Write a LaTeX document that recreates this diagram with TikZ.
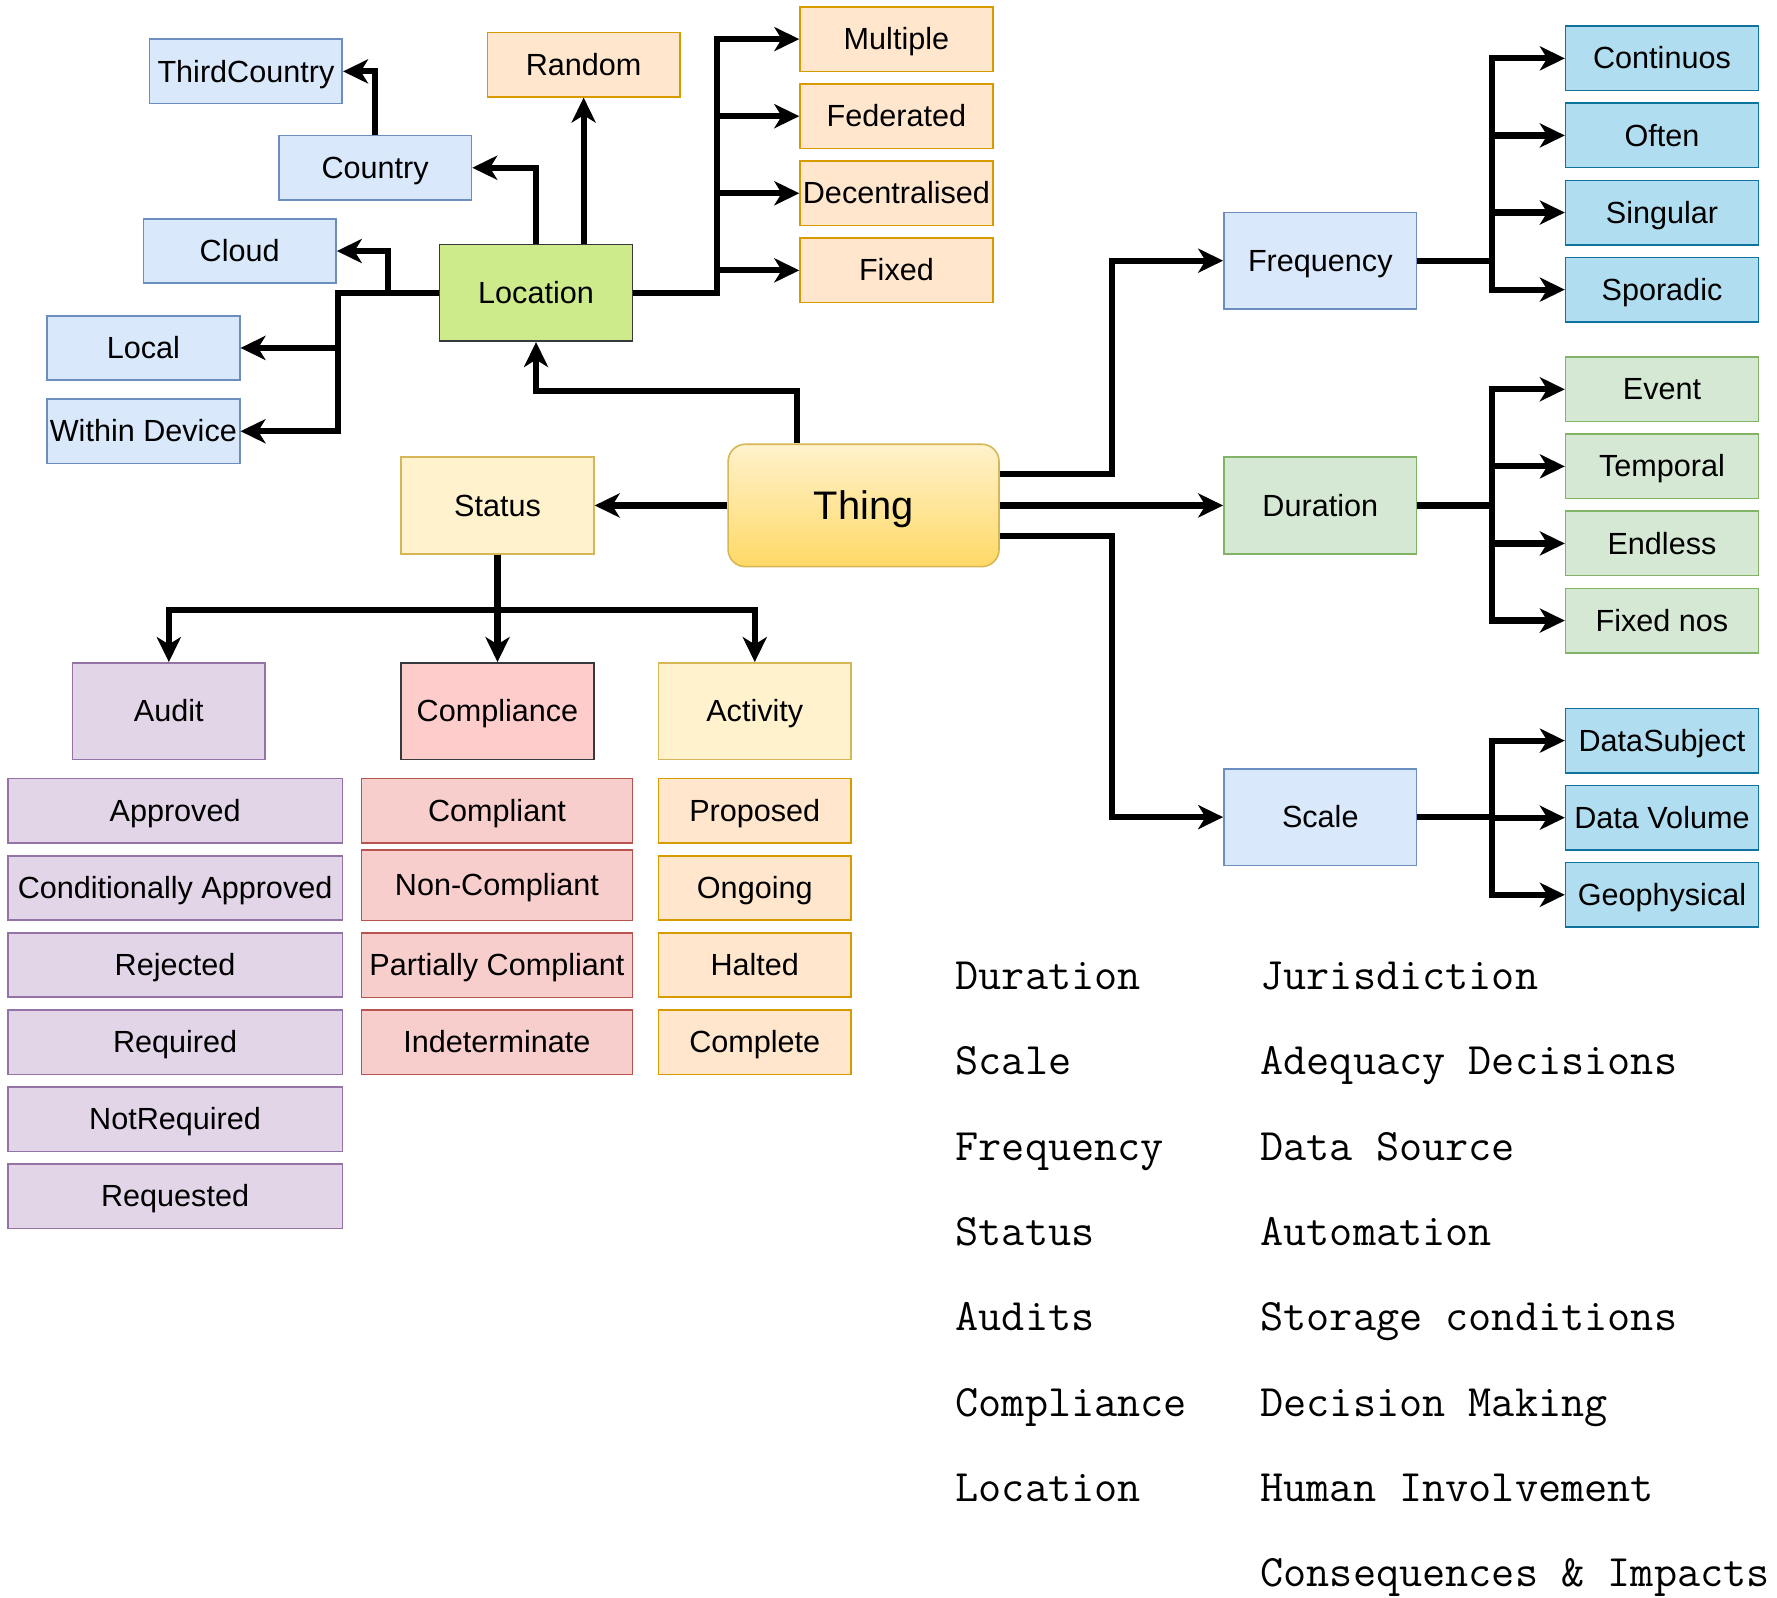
\documentclass[tikz,border=0pt]{standalone}
\usepackage{fontspec}
\setmainfont{Liberation Sans}
\usepackage{tikz}
\usetikzlibrary{arrows.meta,positioning}

\definecolor{blueFill}{HTML}{DAE8FC}
\definecolor{blueLine}{HTML}{6C8EBF}
\definecolor{orangeFill}{HTML}{FFE6CC}
\definecolor{orangeLine}{HTML}{D79B00}
\definecolor{limeFill}{HTML}{CDEB8B}
\definecolor{darkLine}{HTML}{36393D}
\definecolor{yellowFill}{HTML}{FFF2CC}
\definecolor{yellowLine}{HTML}{D6B656}
\definecolor{thingTop}{HTML}{FFF2CC}
\definecolor{thingBottom}{HTML}{FFD966}
\definecolor{purpleFill}{HTML}{E1D5E7}
\definecolor{purpleLine}{HTML}{9673A6}
\definecolor{pinkFill}{HTML}{FFCCCC}
\definecolor{redFill}{HTML}{F8CECC}
\definecolor{redLine}{HTML}{B85450}
\definecolor{cyanFill}{HTML}{B1DDF0}
\definecolor{cyanLine}{HTML}{10739E}
\definecolor{greenFill}{HTML}{D5E8D4}
\definecolor{greenLine}{HTML}{82B366}

\tikzset{
  catbox/.style={
    draw,
    rectangle,
    line width=0.35mm,
    minimum width=4.25cm,
    minimum height=1.42cm,
    inner sep=1pt,
    text height=17.4pt,
    text depth=4.1pt,
    align=center,
    font=\fontsize{19.2}{23}\selectfont
  },
  bigbox/.style={catbox, minimum height=2.13cm},
  bluebox/.style={catbox, fill=blueFill, draw=blueLine},
  orangebox/.style={catbox, fill=orangeFill, draw=orangeLine},
  purplebox/.style={catbox, fill=purpleFill, draw=purpleLine, minimum width=7.375cm},
  redbox/.style={catbox, fill=redFill, draw=redLine, minimum width=5.975cm},
  cyanbox/.style={catbox, fill=cyanFill, draw=cyanLine},
  greenbox/.style={catbox, fill=greenFill, draw=greenLine},
  thingbox/.style={
    draw=yellowLine,
    line width=0.35mm,
    rounded corners=0.38cm,
    top color=thingTop,
    bottom color=thingBottom,
    minimum width=5.975cm,
    minimum height=2.7cm,
    text height=22.6pt,
    text depth=5.3pt,
    font=\fontsize{25}{30}\selectfont
  },
  aspect/.style={
    anchor=base west,
    inner sep=0pt,
    font=\ttfamily\fontsize{28.2}{33}\selectfont
  },
  link/.style={
    draw=black,
    line width=1.35mm,
    ->,
    >={Stealth[length=5.5mm,width=5.3mm,inset=1.6mm]}
  }
}

\begin{document}
\begin{tikzpicture}[x=0.025cm, y=-0.025cm, node distance=0.245cm and 0.6cm]
    \useasboundingbox (0,0) rectangle (1568,1410);

    \node [thingbox] (thing) at (762,446) {Thing};

    \node [bigbox, fill=limeFill, draw=darkLine] (loc) at (473,258.5) {Location};

    \node [bluebox] (country) at (331,148) {Country};

    \node [bluebox] (third) at (217,63) {ThirdCountry};

    \node [orangebox] (random) at (515,57) {Random};

    \node [bluebox] (cloud) at (211.5,221.5) {Cloud};

    \node [bluebox] (local) at (126.5,307) {Local};

    \node [bluebox] (device) at (126.5,380.5) {Within Device};

    \node [orangebox] (multiple) at (791,34.5) {Multiple};
    \node [orangebox, below= of multiple] (federated) {Federated};
    \node [orangebox, below= of federated] (decentral) {Decentralised};
    \node [orangebox, below= of decentral] (fixed) {Fixed};

    \node [bigbox, fill=yellowFill, draw=yellowLine] (status) at (439,446) {Status};

    \node [bigbox, fill=purpleFill, draw=purpleLine] (audit) at (149,627.5) {Audit};

    \node [bigbox, fill=pinkFill, draw=darkLine] (compliance) at (439,627.5) {Compliance};

    \node [bigbox, fill=yellowFill, draw=yellowLine] (activity) at (666,627.5) {Activity};

    \node [purplebox] (approved) at (154.5,715.5) {Approved};
    \node [purplebox, below= of approved] (condapproved) {Conditionally Approved};
    \node [purplebox, below= of condapproved] (rejected) {Rejected};
    \node [purplebox, below= of rejected] (required) {Required};
    \node [purplebox, below= of required] (notrequired) {NotRequired};
    \node [purplebox, below= of notrequired] (requested) {Requested};

    \node [redbox] (compliant) at (438.5,715.5) {Compliant};
    \node [redbox, minimum height=1.55cm, below=0.12cm of compliant] (noncompliant) {Non-Compliant};
    \node [redbox, below= of noncompliant] (partial) {Partially Compliant};
    \node [redbox, below= of partial] (indeterminate) {Indeterminate};

    \node [orangebox] (proposed) at (666,715.5) {Proposed};
    \node [orangebox, below= of proposed] (ongoing) {Ongoing};
    \node [orangebox, below= of ongoing] (halted) {Halted};
    \node [orangebox, below= of halted] (complete) {Complete};

    \node [bigbox, fill=blueFill, draw=blueLine] (freq) at (1165,230) {Frequency};

    \node [bigbox, fill=greenFill, draw=greenLine] (dur) at (1165,446) {Duration};

    \node [bigbox, fill=blueFill, draw=blueLine] (scale) at (1165,721) {Scale};

    \node [cyanbox] (cont) at (1466.5,51.5) {Continuos};
    \node [cyanbox, below= of cont] (often) {Often};
    \node [cyanbox, below= of often] (singular) {Singular};
    \node [cyanbox, below= of singular] (sporadic) {Sporadic};

    \node [greenbox] (event) at (1466.5,343.5) {Event};
    \node [greenbox, below= of event] (temporal) {Temporal};
    \node [greenbox, below= of temporal] (endless) {Endless};
    \node [greenbox, below= of endless] (fixednos) {Fixed nos};

    \node [cyanbox] (subject) at (1466.5,653.5) {DataSubject};
    \node [cyanbox, below= of subject] (volume) {Data Volume};
    \node [cyanbox, below= of volume] (geo) {Geophysical};

    \node [aspect] (a1) at (843,873) {Duration};
    \node [aspect] (a2) at (843,948.3) {Scale};
    \node [aspect] (a3) at (843,1023.6) {Frequency};
    \node [aspect] (a4) at (843,1098.9) {Status};
    \node [aspect] (a5) at (843,1174.2) {Audits};
    \node [aspect] (a6) at (843,1249.5) {Compliance};
    \node [aspect] (a7) at (843,1324.8) {Location};

    \node [aspect] (b1) at (1112,873) {Jurisdiction};
    \node [aspect] (b2) at (1112,948.3) {Adequacy Decisions};
    \node [aspect] (b3) at (1112,1023.6) {Data Source};
    \node [aspect] (b4) at (1112,1098.9) {Automation};
    \node [aspect] (b5) at (1112,1174.2) {Storage conditions};
    \node [aspect] (b6) at (1112,1249.5) {Decision Making};
    \node [aspect] (b7) at (1112,1324.8) {Human Involvement};
    \node [aspect] (b8) at (1112,1400.1) {Consequences \& Impacts};

    \draw [link] ([xshift=-1.475cm]thing.north) -- ++(0,-46) -| (loc.south);
    \draw [link] (thing) -- (status);
    \draw [link] (thing) -- (dur);
    \draw [link] ([yshift=0.7cm]thing.east) -- ++(99,0) |- (freq);
    \draw [link] ([yshift=-0.675cm]thing.east) -- ++(99,0) |- (scale);

    \draw [link] (loc.north) |- (country);
    \draw [link] (country.north) |- (third);
    \draw [link] (loc.north -| random.south) -- (random);
    \draw [link] (loc.west) -- ++(-45,0) |- (cloud);
    \draw [link] (loc.west) -- ++(-89,0) |- (local);
    \draw [link] (loc.west) -- ++(-89,0) |- (device);
    \draw [link] (loc.east) -- ++(74,0) |- (multiple);
    \draw [link] (loc.east) -- ++(74,0) |- (federated);
    \draw [link] (loc.east) -- ++(74,0) |- (decentral);
    \draw [link] (loc.east) -- ++(74,0) |- (fixed);

    \draw [link] (status.south) -- ++(0,49) -| (audit);
    \draw [link] (status) -- (compliance);
    \draw [link] (status.south) -- ++(0,49) -| (activity);

    \draw [link] (freq.east) -- ++(66,0) |- (cont);
    \draw [link] (freq.east) -- ++(66,0) |- (often);
    \draw [link] (freq.east) -- ++(66,0) |- (singular);
    \draw [link] (freq.east) -- ++(66,0) |- (sporadic);

    \draw [link] (dur.east) -- ++(66,0) |- (event);
    \draw [link] (dur.east) -- ++(66,0) |- (temporal);
    \draw [link] (dur.east) -- ++(66,0) |- (endless);
    \draw [link] (dur.east) -- ++(66,0) |- (fixednos);

    \draw [link] (scale.east) -- ++(66,0) |- (subject);
    \draw [link] (scale.east) -- ++(66,0) |- (volume);
    \draw [link] (scale.east) -- ++(66,0) |- (geo);
  \end{tikzpicture}
\end{document}
